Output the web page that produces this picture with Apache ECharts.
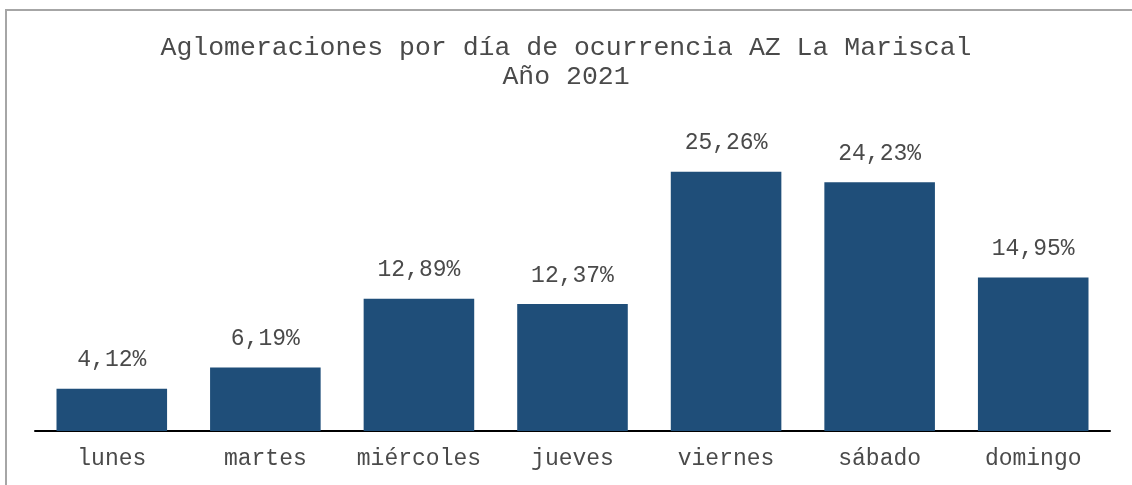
<!DOCTYPE html>
<html>
<head>
<meta charset="utf-8">
<script src="https://cdn.jsdelivr.net/npm/echarts@6/dist/echarts.min.js"></script>
<style>
    html, body { margin: 0; padding: 0; background: #fff; }
    #chart { width: 1132px; height: 485px; }
</style>
</head>
<body>
<div id="chart"></div>
<script type="text/javascript">
    // datos
    var dias = ['lunes', 'martes', 'miércoles', 'jueves', 'viernes', 'sábado', 'domingo'];
    var porcentajes = [4.12, 6.19, 12.89, 12.37, 25.26, 24.23, 14.95];

    var fuente = '"Liberation Mono", "Courier New", monospace';
    var myChart = echarts.init(document.getElementById('chart'));

    option = {
        backgroundColor: '#ffffff',
        animation: false,
        title: {
            text: 'Aglomeraciones por día de ocurrencia AZ La Mariscal\nAño 2021',
            left: 'center',
            top: 28,
            textStyle: {
                fontFamily: fuente,
                fontSize: 26.5,
                fontWeight: 'normal',
                color: '#4a4a4a',
                lineHeight: 29
            }
        },
        graphic: [
            {
                type: 'polyline',
                shape: { points: [[6, 485], [6, 10], [1132, 10]] },
                style: { stroke: '#a6a6a6', lineWidth: 2, fill: null },
                silent: true
            }
        ],
        grid: {
            left: 35,
            right: 22,
            top: 123,
            bottom: 54
        },
        xAxis: {
            type: 'category',
            data: dias,
            axisLine: { lineStyle: { color: '#000', width: 2 } },
            axisTick: { show: false },
            axisLabel: {
                interval: 0,
                margin: 16,
                fontFamily: fuente,
                fontSize: 23,
                color: '#4a4a4a'
            }
        },
        yAxis: {
            type: 'value',
            min: 0,
            max: 30,
            show: false,
            splitLine: { show: false }
        },
        series: [
            {
                type: 'bar',
                data: porcentajes,
                barCategoryGap: '28%',
                itemStyle: { color: '#1f4e79' },
                label: {
                    show: true,
                    position: 'top',
                    distance: 17,
                    fontFamily: fuente,
                    fontSize: 23,
                    color: '#4a4a4a',
                    formatter: function (p) {
                        return p.value.toFixed(2).replace('.', ',') + '%';
                    }
                }
            }
        ]
    };

    myChart.setOption(option);
</script>
</body>
</html>
